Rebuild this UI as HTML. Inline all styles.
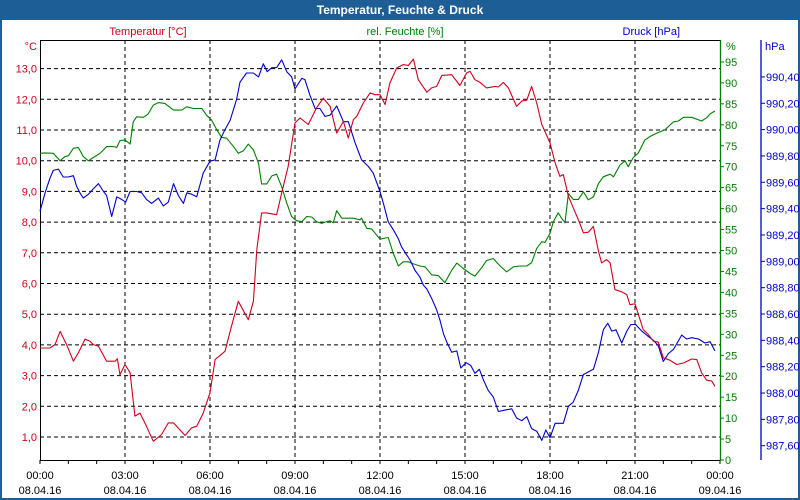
<!DOCTYPE html>
<html><head><meta charset="utf-8">
<style>
html,body{margin:0;padding:0;background:#fff;}
#wrap{position:relative;width:800px;height:500px;overflow:hidden;background:#1e5e96;}
svg text{font-family:"Liberation Sans",sans-serif;font-size:11px;}
</style></head>
<body>
<div id="wrap">
<svg id="chart" width="800" height="500" xmlns="http://www.w3.org/2000/svg">
  <rect x="2" y="20" width="796" height="478" fill="#ffffff"/>
  <text x="400" y="14" text-anchor="middle" fill="#ffffff" font-weight="bold" style="font-size:12px">Temperatur, Feuchte &amp; Druck</text>
  <text x="148" y="35" text-anchor="middle" fill="#d0001c">Temperatur [°C]</text>
  <text x="405" y="35" text-anchor="middle" fill="#008000">rel. Feuchte [%]</text>
  <text x="680" y="35" text-anchor="end" fill="#0000cc">Druck [hPa]</text>
  <text x="37" y="50" text-anchor="end" fill="#d0001c">°C</text>
  <text x="726" y="50" fill="#008000">%</text>
  <text x="765" y="50" fill="#0000cc">hPa</text>
  <g id="grid"></g>
  <g id="axes"></g>
  <g id="series"></g>
</svg>
</div>
<script>
const tempTimes=[0,.35,.53,.71,.94,1.18,1.35,1.59,1.76,1.88,2.06,2.35,2.65,2.73,2.82,3.0,3.18,3.35,3.53,3.76,4.0,4.29,4.53,4.71,5.12,5.35,5.53,5.76,6.0,6.18,6.53,6.76,7.0,7.35,7.53,7.65,7.82,8.0,8.35,8.53,8.76,9.0,9.18,9.47,9.76,10.0,10.24,10.47,10.71,10.88,11.06,11.18,11.41,11.65,11.82,12.0,
12.18,12.35,12.59,12.82,13.0,13.18,13.35,13.65,13.82,14.0,14.18,14.53,14.82,15.06,15.18,15.35,15.53,15.76,16.06,16.18,16.35,16.53,16.82,17.0,17.18,17.35,17.53,17.71,18.0,18.18,18.35,18.47,18.65,19.0,19.18,19.35,19.53,19.71,19.82,20.0,20.12,20.29,20.53,20.71,20.82,21.0,21.29,21.47,21.65,21.82,22.0,22.24,22.47,22.71,23.0,23.18,23.35,23.53,23.71,23.82];
const tempValues=[3.90,3.90,4.01,4.44,4.01,3.47,3.74,4.19,4.12,4.01,3.96,3.47,3.47,3.55,3.03,3.36,3.09,1.68,1.78,1.35,0.86,1.08,1.46,1.46,1.05,1.30,1.35,1.78,2.44,3.52,3.79,4.61,5.42,4.82,5.42,7.10,8.30,8.30,8.24,8.95,9.82,11.23,11.39,11.18,11.72,12.04,11.77,10.90,11.28,10.74,11.34,11.45,11.88,12.21,12.15,12.15,
11.83,12.53,13.02,13.13,13.10,13.31,12.64,12.23,12.37,12.42,12.78,12.80,12.45,12.86,12.91,12.64,12.55,12.37,12.42,12.40,12.55,12.37,11.77,11.94,11.97,12.42,11.88,11.18,10.58,9.93,9.49,9.55,8.84,8.08,7.65,7.67,7.86,7.05,6.67,6.78,6.67,5.80,5.73,5.64,5.31,5.34,4.50,4.34,4.12,4.09,3.58,3.50,3.36,3.41,3.54,3.52,3.09,2.85,2.82,2.65];
const humTimes=[0,.18,.47,.71,.88,1.0,1.18,1.35,1.53,1.71,1.88,2.12,2.35,2.59,2.71,2.82,3.0,3.18,3.29,3.41,3.65,3.82,4.0,4.18,4.41,4.71,5.0,5.18,5.41,5.71,5.88,6.06,6.24,6.41,6.59,6.82,7.0,7.18,7.35,7.53,7.71,7.82,8.0,8.18,8.35,8.53,8.71,8.88,9.06,9.24,9.41,9.59,9.76,9.94,10.12,10.24,10.35,10.47,10.65,11.06,11.29,11.35,11.53,11.71,12.0,
12.29,12.47,12.65,12.82,13.0,13.18,13.41,13.59,13.82,14.06,14.29,14.53,14.71,14.94,15.18,15.35,15.59,15.76,16.0,16.24,16.47,16.71,16.94,17.18,17.35,17.53,17.71,17.82,18.0,18.12,18.29,18.41,18.53,18.65,18.82,19.0,19.18,19.35,19.53,19.71,19.88,20.12,20.24,20.47,20.65,20.76,20.94,21.12,21.35,21.53,21.76,22.06,22.35,22.53,22.71,23.0,23.35,23.53,23.65,23.82];
const humValues=[73.2,73.3,73.2,71.4,72.4,72.6,74.4,74.6,72.4,71.4,72.2,73.2,74.8,74.8,74.6,76.2,76.4,75.4,80.7,81.9,81.8,82.6,84.7,85.3,85.1,83.5,83.5,84.3,83.9,83.9,82.3,81.1,78.8,77.0,76.8,74.9,73.2,73.8,75.4,74.0,70.8,65.9,65.9,67.8,68.2,65.2,61.3,58.1,57.1,56.9,58.1,58.0,56.9,56.5,56.9,57.1,56.6,59.5,57.7,57.7,57.3,57.7,55.3,55.1,52.7,
53.1,49.3,46.3,47.3,47.3,46.8,46.3,46.1,44.2,44.0,42.3,45.3,47.0,45.7,44.5,43.9,45.9,47.6,48.1,46.3,44.9,46.1,46.3,46.3,47.1,50.5,52.1,51.9,54.1,56.9,59.0,57.7,56.6,63.6,62.2,62.2,64.0,62.1,62.8,66.0,67.6,68.2,67.6,70.4,71.4,70.0,72.2,73.3,76.4,77.2,78.0,78.8,80.7,80.9,81.8,81.8,80.9,81.7,82.6,83.3];
const presTimes=[0,.18,.35,.47,.65,.82,1.0,1.18,1.29,1.41,1.53,1.71,1.88,2.06,2.24,2.35,2.53,2.71,2.88,3.02,3.18,3.41,3.59,3.76,3.94,4.18,4.35,4.53,4.71,4.88,5.06,5.18,5.35,5.53,5.76,6.0,6.18,6.35,6.53,6.71,6.94,7.06,7.29,7.53,7.71,7.88,8.02,8.18,8.35,8.53,8.71,8.88,9.0,9.24,9.35,9.53,9.71,9.88,10.06,10.24,10.47,10.71,10.88,11.12,11.35,11.59,11.76,12.0,
12.12,12.29,12.47,12.65,12.76,12.88,13.06,13.24,13.41,13.53,13.65,13.82,14.0,14.12,14.24,14.35,14.53,14.71,14.85,15.04,15.2,15.35,15.51,15.65,15.82,16.0,16.18,16.41,16.65,16.82,17.0,17.18,17.35,17.53,17.71,17.85,18.0,18.18,18.47,18.65,18.82,19.0,19.18,19.35,19.53,19.71,19.88,20.04,20.18,20.33,20.53,20.71,20.85,21.02,21.24,21.47,21.65,21.82,22.0,22.18,22.35,22.65,22.82,23.0,23.24,23.47,23.65,23.82];
const presValues=[989.38,989.52,989.63,989.69,989.70,989.64,989.64,989.65,989.57,989.52,989.48,989.51,989.55,989.59,989.53,989.50,989.34,989.49,989.47,989.45,989.53,989.53,989.52,989.47,989.44,989.48,989.42,989.45,989.59,989.50,989.44,989.52,989.51,989.49,989.67,989.76,989.77,989.92,990.00,990.07,990.23,990.36,990.43,990.43,990.40,990.50,990.44,990.47,990.47,990.53,990.44,990.40,990.31,990.39,990.38,990.26,990.16,990.16,990.10,990.11,990.18,990.06,990.06,989.90,989.77,989.72,989.67,989.53,
989.44,989.30,989.24,989.17,989.11,989.07,989.01,988.93,988.88,988.82,988.79,988.72,988.63,988.55,988.45,988.39,988.31,988.32,988.19,988.23,988.21,988.15,988.18,988.10,988.02,987.97,987.86,987.87,987.88,987.81,987.79,987.82,987.73,987.71,987.64,987.72,987.66,987.77,987.77,987.90,987.93,988.02,988.14,988.16,988.18,988.31,988.48,988.53,988.47,988.48,988.38,988.47,988.52,988.52,988.47,988.43,988.40,988.36,988.24,988.30,988.33,988.44,988.41,988.42,988.41,988.38,988.39,988.32];
const timeLabels=["00:00","03:00","06:00","09:00","12:00","15:00","18:00","21:00","00:00"];
const dateLabels=["08.04.16","08.04.16","08.04.16","08.04.16","08.04.16","08.04.16","08.04.16","08.04.16","09.04.16"];
const tempTicks=[1,2,3,4,5,6,7,8,9,10,11,12,13];
const humTicks=[0,5,10,15,20,25,30,35,40,45,50,55,60,65,70,75,80,85,90,95];
const presTicks=[987.6,987.8,988.0,988.2,988.4,988.6,988.8,989.0,989.2,989.4,989.6,989.8,990.0,990.2,990.4];

const L=40,R=720,T=40,B=460;
const xS=h=>L+h*(R-L)/24;
const yT=v=>68.6+(13-v)*30.7;
const yH=v=>460-v*4.19;
const yP=v=>445.7-(v-987.6)*131.7;
const NS="http://www.w3.org/2000/svg";
function mk(tag,attrs,parent){const e=document.createElementNS(NS,tag);for(const k in attrs)e.setAttribute(k,attrs[k]);parent.appendChild(e);return e;}
const grid=document.getElementById('grid'),axes=document.getElementById('axes'),series=document.getElementById('series');
const red="#d0001c",green="#008000",blue="#0000cc";

tempTicks.forEach(v=>{
  const y=yT(v);
  const g=mk('line',{x1:L,x2:R,y1:y,y2:y,stroke:'#000','stroke-width':1,'stroke-dasharray':'4,3'},grid);
  
  
  const t=mk('text',{x:37,y:y+4,'text-anchor':'end',fill:red},axes);
  t.textContent=v.toFixed(1).replace('.',',');
  
  
});
for(let i=1;i<8;i++){
  const x=xS(i*3);
  const g=mk('line',{x1:x,x2:x,y1:T,y2:B,stroke:'#000','stroke-width':1,'stroke-dasharray':'4,3'},grid);
  
  
}
for(let h=0;h<=24;h++){
  const x=xS(h);
  const tk=mk('line',{x1:x,x2:x,y1:B,y2:B+4,stroke:'#000'},axes);
  
  
}
timeLabels.forEach((s,i)=>{
  const x=xS(i*3);
  const a=mk('text',{x:x,y:479,'text-anchor':'middle',fill:'#000'},axes);
  a.textContent=s;
  
  
  const b=mk('text',{x:x,y:494,'text-anchor':'middle',fill:'#000'},axes);
  b.textContent=dateLabels[i];
  
  
});
let ln;
ln=mk('line',{x1:L,x2:R,y1:T+.5,y2:T+.5,stroke:'#000'},axes);


ln=mk('line',{x1:L+.5,x2:L+.5,y1:T,y2:B+1,stroke:'#000'},axes);


ln=mk('line',{x1:L,x2:R,y1:B+.5,y2:B+.5,stroke:'#000'},axes);


ln=mk('line',{x1:R+.5,x2:R+.5,y1:T,y2:B+1,stroke:green,'stroke-width':1.3},axes);


ln=mk('line',{x1:761,x2:761,y1:T,y2:B,stroke:blue,'stroke-width':1.3},axes);


humTicks.forEach(v=>{
  const y=yH(v);
  const tk=mk('line',{x1:R,x2:R+4,y1:y,y2:y,stroke:green},axes);
  
  
  const t=mk('text',{x:725,y:y+4,fill:green},axes);
  t.textContent=String(v);
  
  
});
presTicks.forEach(v=>{
  const y=yP(v);
  const tk=mk('line',{x1:761,x2:765,y1:y,y2:y,stroke:blue},axes);
  
  
  const t=mk('text',{x:766,y:y+4,fill:blue},axes);
  t.textContent=v.toFixed(2).replace('.',',');
  
  
});
function drawLine(times,vals,yf,color,name){
  const n=Math.min(times.length,vals.length);
  let d='';
  for(let i=0;i<n;i++){d+=(i?'L':'M')+xS(times[i]).toFixed(1)+','+yf(vals[i]).toFixed(1);}
  const p=mk('path',{d:d,fill:'none',stroke:color,'stroke-width':1.1,'stroke-linejoin':'round'},series);
  
  
}
drawLine(humTimes,humValues,yH,green,'humidity-line');
drawLine(presTimes,presValues,yP,blue,'pressure-line');
drawLine(tempTimes,tempValues,yT,red,'temperature-line');
</script>
</body></html>
